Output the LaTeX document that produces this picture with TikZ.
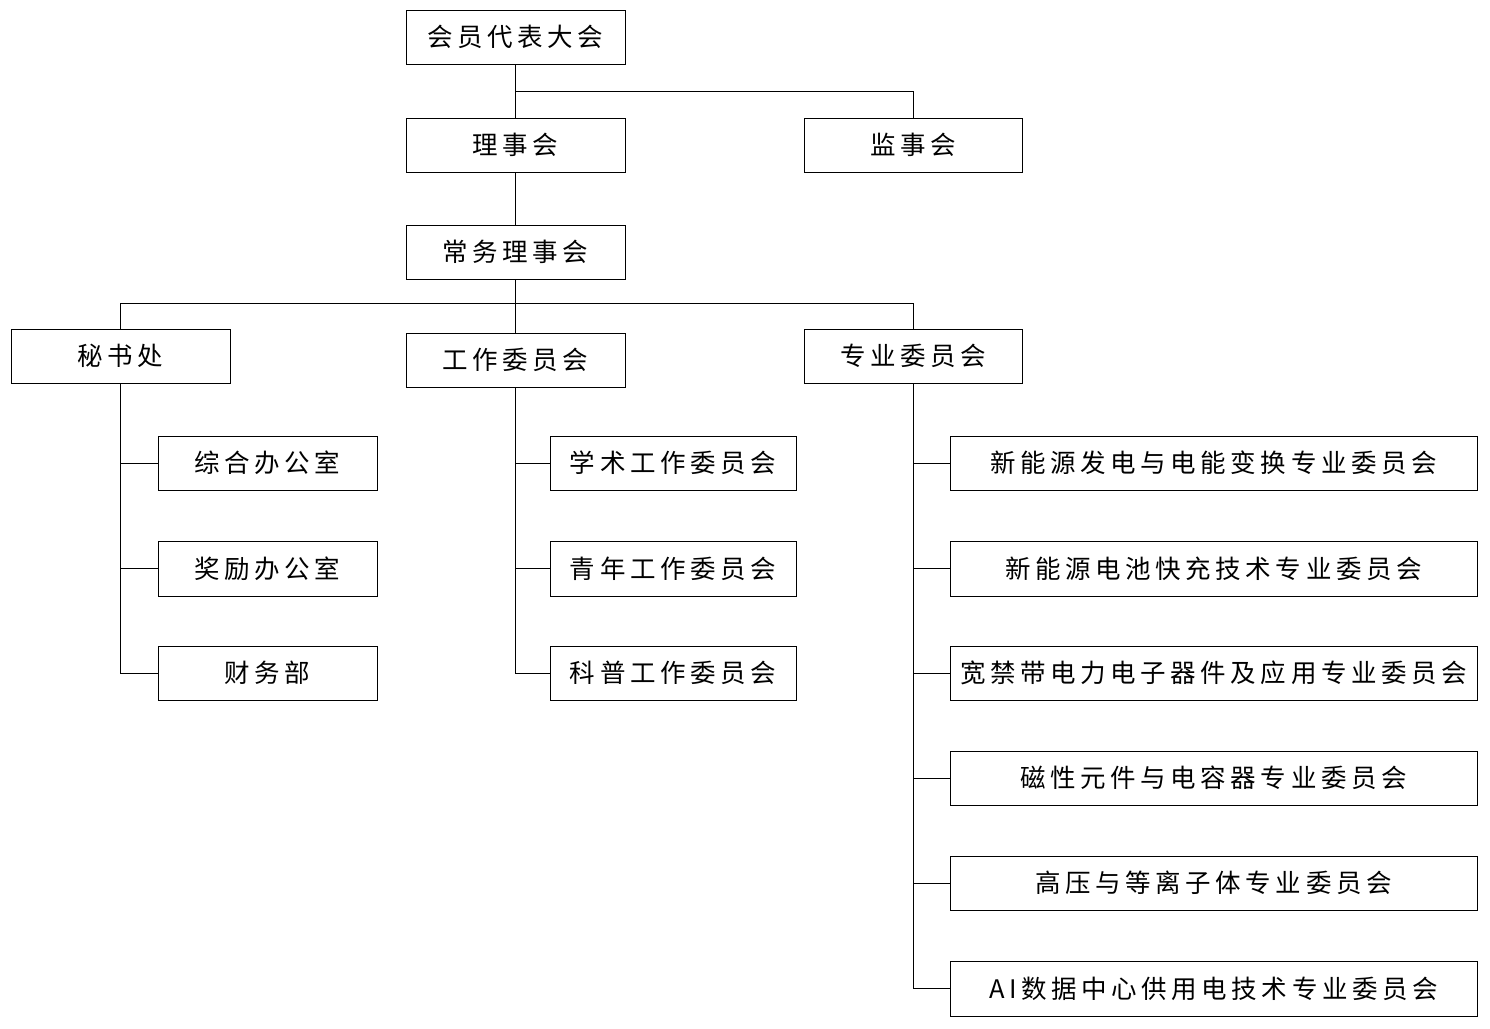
\documentclass[tikz,border=0pt]{standalone}
\usepackage{fontspec}
\setmainfont{Noto Sans CJK SC}[LetterSpace=18]
\begin{document}
\begin{tikzpicture}[x=1pt,y=-1pt,line width=1pt,
  box/.style={draw,rectangle,inner sep=0pt,font=\fontsize{25.5}{28}\selectfont},
  ln/.style={draw}]
\useasboundingbox (0,0) rectangle (1490,1028);
\newcommand\bx[6]{\node[box,minimum width={#4-#2},minimum height={#5-#3}] (#1) at ({(#2+#4)/2},{(#3+#5)/2}) {#6};}
\bx{hy}{406}{10}{625}{64}{会员代表大会}
\bx{ls}{406}{118}{625}{172}{理事会}
\bx{js}{804}{118}{1022}{172}{监事会}
\bx{cw}{406}{225}{625}{279}{常务理事会}
\bx{ms}{11}{329}{230}{383}{秘书处}
\bx{gz}{406}{333}{625}{387}{工作委员会}
\bx{zy}{804}{329}{1022}{383}{专业委员会}
\bx{a1}{158}{436}{377}{490}{综合办公室}
\bx{a2}{158}{541}{377}{596}{奖励办公室}
\bx{a3}{158}{646}{377}{700}{财务部}
\bx{b1}{550}{436}{796}{490}{学术工作委员会}
\bx{b2}{550}{541}{796}{596}{青年工作委员会}
\bx{b3}{550}{646}{796}{700}{科普工作委员会}
\bx{c1}{950}{436}{1477}{490}{新能源发电与电能变换专业委员会}
\bx{c2}{950}{541}{1477}{596}{新能源电池快充技术专业委员会}
\bx{c3}{950}{646}{1477}{700}{宽禁带电力电子器件及应用专业委员会}
\bx{c4}{950}{751}{1477}{805}{磁性元件与电容器专业委员会}
\bx{c5}{950}{856}{1477}{910}{高压与等离子体专业委员会}
\bx{c6}{950}{961}{1477}{1016}{AI数据中心供用电技术专业委员会}
\draw (hy.south) -- (ls.north);
\draw (hy.south) ++(0,27) -| (js.north);
\draw (ls.south) -- (cw.north);
\draw (cw.south) -- (gz.north);
\draw (cw.south) ++(0,24) -| (ms.north);
\draw (cw.south) ++(0,24) -| (zy.north);
\draw (ms.south) -- (ms.south |- a3.west) -- (a3.west);
\draw (ms.south |- a1.west) -- (a1.west);
\draw (ms.south |- a2.west) -- (a2.west);
\draw (gz.south) -- (gz.south |- b3.west) -- (b3.west);
\draw (gz.south |- b1.west) -- (b1.west);
\draw (gz.south |- b2.west) -- (b2.west);
\draw (zy.south) -- (zy.south |- c6.west) -- (c6.west);
\foreach \c in {c1,c2,c3,c4,c5} \draw (zy.south |- \c.west) -- (\c.west);
\end{tikzpicture}
\end{document}
